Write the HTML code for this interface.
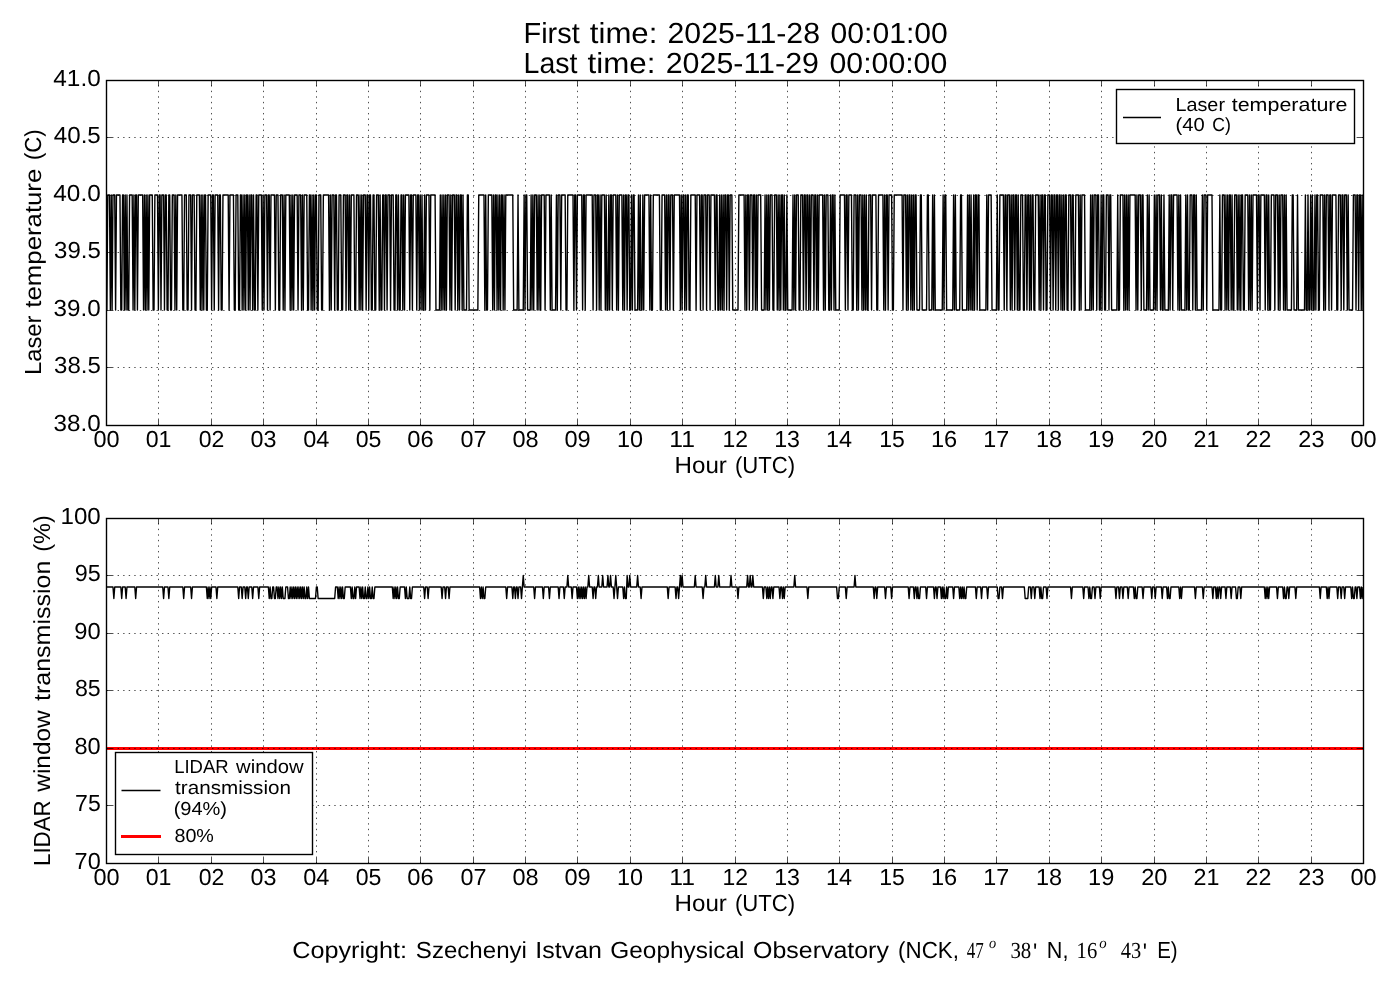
<!DOCTYPE html><html><head><meta charset="utf-8"><style>html,body{margin:0;padding:0;background:#fff;width:1400px;height:1000px;overflow:hidden}svg{display:block;will-change:transform}text{font-family:"Liberation Sans",sans-serif;fill:#000;text-rendering:geometricPrecision}.ser{font-family:"Liberation Serif",serif}.seri{font-family:"Liberation Serif",serif;font-style:italic}</style></head><body>
<svg width="1400" height="1000" viewBox="0 0 1400 1000">
<rect x="0" y="0" width="1400" height="1000" fill="#fff"/>
<path d="M106.87 310.00 L107.75 195.00 L108.62 195.00 L109.49 195.00 L110.36 310.00 L111.24 195.00 L112.11 310.00 L112.98 195.00 L113.86 195.00 L114.73 195.00 L115.60 310.00 L116.47 195.00 L117.35 195.00 L118.22 195.00 L119.09 195.00 L119.97 195.00 L120.84 310.00 L121.71 310.00 L122.59 195.00 L123.46 195.00 L124.33 310.00 L125.20 195.00 L126.08 310.00 L126.95 195.00 L127.82 310.00 L128.70 310.00 L129.57 195.00 L130.44 195.00 L131.31 195.00 L132.19 195.00 L133.06 310.00 L133.93 195.00 L134.81 310.00 L135.68 195.00 L136.55 195.00 L137.43 310.00 L138.30 195.00 L139.17 195.00 L140.04 195.00 L140.92 195.00 L141.79 195.00 L142.66 195.00 L143.54 310.00 L144.41 195.00 L145.28 310.00 L146.15 195.00 L147.03 310.00 L147.90 195.00 L148.77 310.00 L149.65 195.00 L150.52 195.00 L151.39 195.00 L152.26 195.00 L153.14 310.00 L154.01 310.00 L154.88 195.00 L155.76 195.00 L156.63 195.00 L157.50 195.00 L158.38 310.00 L159.25 195.00 L160.12 195.00 L160.99 310.00 L161.87 195.00 L162.74 195.00 L163.61 195.00 L164.49 310.00 L165.36 195.00 L166.23 195.00 L167.10 310.00 L167.98 310.00 L168.85 195.00 L169.72 195.00 L170.60 310.00 L171.47 310.00 L172.34 195.00 L173.21 195.00 L174.09 195.00 L174.96 310.00 L175.83 195.00 L176.71 310.00 L177.58 195.00 L178.45 195.00 L179.32 195.00 L180.20 195.00 L181.07 195.00 L181.94 195.00 L182.82 310.00 L183.69 310.00 L184.56 195.00 L185.44 195.00 L186.31 195.00 L187.18 310.00 L188.05 310.00 L188.93 195.00 L189.80 195.00 L190.67 195.00 L191.55 310.00 L192.42 195.00 L193.29 195.00 L194.16 195.00 L195.04 310.00 L195.91 310.00 L196.78 195.00 L197.66 195.00 L198.53 195.00 L199.40 195.00 L200.28 310.00 L201.15 195.00 L202.02 310.00 L202.89 195.00 L203.77 310.00 L204.64 195.00 L205.51 195.00 L206.39 310.00 L207.26 310.00 L208.13 195.00 L209.00 195.00 L209.88 195.00 L210.75 195.00 L211.62 310.00 L212.50 195.00 L213.37 195.00 L214.24 310.00 L215.11 195.00 L215.99 195.00 L216.86 195.00 L217.73 195.00 L218.61 310.00 L219.48 195.00 L220.35 195.00 L221.23 310.00 L222.10 310.00 L222.97 195.00 L223.84 195.00 L224.72 195.00 L225.59 195.00 L226.46 195.00 L227.34 195.00 L228.21 195.00 L229.08 310.00 L229.95 195.00 L230.83 195.00 L231.70 195.00 L232.57 195.00 L233.45 195.00 L234.32 310.00 L235.19 310.00 L236.06 195.00 L236.94 195.00 L237.81 195.00 L238.68 310.00 L239.56 310.00 L240.43 195.00 L241.30 195.00 L242.18 310.00 L243.05 195.00 L243.92 310.00 L244.79 195.00 L245.67 310.00 L246.54 195.00 L247.41 195.00 L248.29 310.00 L249.16 195.00 L250.03 310.00 L250.90 195.00 L251.78 195.00 L252.65 310.00 L253.52 195.00 L254.40 310.00 L255.27 310.00 L256.14 195.00 L257.01 195.00 L257.89 310.00 L258.76 195.00 L259.63 195.00 L260.51 195.00 L261.38 195.00 L262.25 310.00 L263.12 195.00 L264.00 310.00 L264.87 195.00 L265.74 195.00 L266.62 195.00 L267.49 310.00 L268.36 195.00 L269.24 195.00 L270.11 310.00 L270.98 195.00 L271.85 195.00 L272.73 195.00 L273.60 195.00 L274.47 195.00 L275.35 310.00 L276.22 195.00 L277.09 195.00 L277.96 195.00 L278.84 310.00 L279.71 310.00 L280.58 195.00 L281.46 195.00 L282.33 195.00 L283.20 310.00 L284.07 195.00 L284.95 310.00 L285.82 195.00 L286.69 195.00 L287.57 195.00 L288.44 195.00 L289.31 195.00 L290.19 310.00 L291.06 195.00 L291.93 310.00 L292.80 195.00 L293.68 310.00 L294.55 195.00 L295.42 195.00 L296.30 195.00 L297.17 195.00 L298.04 310.00 L298.91 195.00 L299.79 195.00 L300.66 195.00 L301.53 310.00 L302.41 195.00 L303.28 310.00 L304.15 195.00 L305.02 195.00 L305.90 195.00 L306.77 195.00 L307.64 310.00 L308.52 310.00 L309.39 195.00 L310.26 195.00 L311.14 310.00 L312.01 195.00 L312.88 310.00 L313.75 195.00 L314.63 310.00 L315.50 195.00 L316.37 195.00 L317.25 310.00 L318.12 310.00 L318.99 195.00 L319.86 195.00 L320.74 195.00 L321.61 310.00 L322.48 310.00 L323.36 195.00 L324.23 195.00 L325.10 195.00 L325.98 195.00 L326.85 195.00 L327.72 195.00 L328.59 195.00 L329.47 310.00 L330.34 195.00 L331.21 310.00 L332.09 195.00 L332.96 195.00 L333.83 195.00 L334.70 310.00 L335.58 195.00 L336.45 195.00 L337.32 310.00 L338.20 310.00 L339.07 195.00 L339.94 195.00 L340.81 195.00 L341.69 310.00 L342.56 310.00 L343.43 195.00 L344.31 195.00 L345.18 195.00 L346.05 310.00 L346.92 195.00 L347.80 195.00 L348.67 310.00 L349.54 195.00 L350.42 310.00 L351.29 195.00 L352.16 195.00 L353.04 195.00 L353.91 195.00 L354.78 310.00 L355.65 310.00 L356.53 195.00 L357.40 195.00 L358.27 195.00 L359.15 310.00 L360.02 195.00 L360.89 310.00 L361.76 195.00 L362.64 310.00 L363.51 195.00 L364.38 195.00 L365.26 195.00 L366.13 310.00 L367.00 195.00 L367.88 195.00 L368.75 310.00 L369.62 195.00 L370.49 195.00 L371.37 310.00 L372.24 310.00 L373.11 195.00 L373.99 195.00 L374.86 310.00 L375.73 310.00 L376.60 195.00 L377.48 195.00 L378.35 195.00 L379.22 310.00 L380.10 195.00 L380.97 310.00 L381.84 310.00 L382.71 195.00 L383.59 195.00 L384.46 310.00 L385.33 195.00 L386.21 195.00 L387.08 310.00 L387.95 195.00 L388.83 195.00 L389.70 195.00 L390.57 310.00 L391.44 195.00 L392.32 195.00 L393.19 195.00 L394.06 310.00 L394.94 310.00 L395.81 195.00 L396.68 195.00 L397.55 310.00 L398.43 195.00 L399.30 310.00 L400.17 310.00 L401.05 195.00 L401.92 195.00 L402.79 310.00 L403.66 195.00 L404.54 310.00 L405.41 195.00 L406.28 195.00 L407.16 195.00 L408.03 195.00 L408.90 195.00 L409.77 310.00 L410.65 195.00 L411.52 195.00 L412.39 310.00 L413.27 195.00 L414.14 195.00 L415.01 195.00 L415.89 195.00 L416.76 310.00 L417.63 195.00 L418.50 195.00 L419.38 310.00 L420.25 195.00 L421.12 310.00 L422.00 195.00 L422.87 310.00 L423.74 310.00 L424.61 195.00 L425.49 310.00 L426.36 195.00 L427.23 195.00 L428.11 195.00 L428.98 195.00 L429.85 310.00 L430.73 195.00 L431.60 195.00 L432.47 195.00 L433.34 195.00 L434.22 195.00 L435.09 195.00 L435.96 310.00 L436.84 310.00 L437.71 310.00 L438.58 310.00 L439.45 310.00 L440.33 195.00 L441.20 310.00 L442.07 195.00 L442.95 310.00 L443.82 195.00 L444.69 310.00 L445.56 195.00 L446.44 310.00 L447.31 195.00 L448.18 195.00 L449.06 195.00 L449.93 310.00 L450.80 195.00 L451.67 310.00 L452.55 195.00 L453.42 195.00 L454.29 195.00 L455.17 310.00 L456.04 195.00 L456.91 195.00 L457.79 310.00 L458.66 195.00 L459.53 310.00 L460.40 195.00 L461.28 195.00 L462.15 310.00 L463.02 195.00 L463.90 310.00 L464.77 310.00 L465.64 310.00 L466.51 310.00 L467.39 195.00 L468.26 195.00 L469.13 310.00 L470.01 310.00 L470.88 310.00 L471.75 310.00 L472.62 310.00 L473.50 310.00 L474.37 310.00 L475.24 310.00 L476.12 310.00 L476.99 310.00 L477.86 310.00 L478.74 195.00 L479.61 195.00 L480.48 195.00 L481.35 195.00 L482.23 195.00 L483.10 195.00 L483.97 195.00 L484.85 310.00 L485.72 195.00 L486.59 310.00 L487.46 310.00 L488.34 195.00 L489.21 195.00 L490.08 195.00 L490.96 195.00 L491.83 195.00 L492.70 310.00 L493.58 195.00 L494.45 310.00 L495.32 195.00 L496.19 195.00 L497.07 310.00 L497.94 195.00 L498.81 310.00 L499.69 195.00 L500.56 310.00 L501.43 195.00 L502.30 195.00 L503.18 310.00 L504.05 195.00 L504.92 310.00 L505.80 195.00 L506.67 195.00 L507.54 195.00 L508.41 195.00 L509.29 195.00 L510.16 195.00 L511.03 195.00 L511.91 195.00 L512.78 195.00 L513.65 310.00 L514.52 310.00 L515.40 310.00 L516.27 310.00 L517.14 310.00 L518.02 195.00 L518.89 310.00 L519.76 310.00 L520.64 310.00 L521.51 310.00 L522.38 310.00 L523.25 310.00 L524.13 195.00 L525.00 310.00 L525.87 195.00 L526.75 195.00 L527.62 310.00 L528.49 310.00 L529.36 310.00 L530.24 310.00 L531.11 195.00 L531.98 310.00 L532.86 195.00 L533.73 310.00 L534.60 195.00 L535.47 195.00 L536.35 195.00 L537.22 310.00 L538.09 195.00 L538.97 310.00 L539.84 195.00 L540.71 310.00 L541.59 195.00 L542.46 195.00 L543.33 195.00 L544.20 195.00 L545.08 310.00 L545.95 195.00 L546.82 195.00 L547.70 195.00 L548.57 195.00 L549.44 195.00 L550.31 310.00 L551.19 195.00 L552.06 310.00 L552.93 310.00 L553.81 310.00 L554.68 310.00 L555.55 310.00 L556.42 195.00 L557.30 310.00 L558.17 195.00 L559.04 195.00 L559.92 195.00 L560.79 310.00 L561.66 195.00 L562.54 195.00 L563.41 195.00 L564.28 195.00 L565.15 195.00 L566.03 310.00 L566.90 310.00 L567.77 195.00 L568.65 195.00 L569.52 195.00 L570.39 195.00 L571.26 195.00 L572.14 195.00 L573.01 195.00 L573.88 310.00 L574.76 195.00 L575.63 195.00 L576.50 310.00 L577.38 195.00 L578.25 195.00 L579.12 195.00 L579.99 195.00 L580.87 195.00 L581.74 195.00 L582.61 310.00 L583.49 195.00 L584.36 195.00 L585.23 310.00 L586.10 195.00 L586.98 195.00 L587.85 195.00 L588.72 195.00 L589.60 195.00 L590.47 195.00 L591.34 195.00 L592.21 195.00 L593.09 310.00 L593.96 195.00 L594.83 195.00 L595.71 195.00 L596.58 310.00 L597.45 195.00 L598.33 195.00 L599.20 310.00 L600.07 195.00 L600.94 310.00 L601.82 195.00 L602.69 195.00 L603.56 195.00 L604.44 195.00 L605.31 310.00 L606.18 195.00 L607.05 310.00 L607.93 310.00 L608.80 195.00 L609.67 310.00 L610.55 195.00 L611.42 195.00 L612.29 310.00 L613.16 195.00 L614.04 195.00 L614.91 195.00 L615.78 195.00 L616.66 310.00 L617.53 195.00 L618.40 310.00 L619.28 195.00 L620.15 195.00 L621.02 195.00 L621.89 195.00 L622.77 310.00 L623.64 195.00 L624.51 310.00 L625.39 195.00 L626.26 195.00 L627.13 310.00 L628.00 195.00 L628.88 195.00 L629.75 310.00 L630.62 310.00 L631.50 195.00 L632.37 310.00 L633.24 195.00 L634.11 195.00 L634.99 310.00 L635.86 310.00 L636.73 310.00 L637.61 310.00 L638.48 195.00 L639.35 310.00 L640.22 195.00 L641.10 310.00 L641.97 310.00 L642.84 195.00 L643.72 310.00 L644.59 195.00 L645.46 195.00 L646.34 195.00 L647.21 195.00 L648.08 195.00 L648.95 195.00 L649.83 310.00 L650.70 195.00 L651.57 310.00 L652.45 310.00 L653.32 195.00 L654.19 195.00 L655.06 195.00 L655.94 195.00 L656.81 195.00 L657.68 195.00 L658.56 195.00 L659.43 195.00 L660.30 310.00 L661.17 310.00 L662.05 195.00 L662.92 195.00 L663.79 195.00 L664.67 195.00 L665.54 310.00 L666.41 195.00 L667.29 310.00 L668.16 195.00 L669.03 195.00 L669.90 310.00 L670.78 195.00 L671.65 195.00 L672.52 195.00 L673.40 310.00 L674.27 195.00 L675.14 195.00 L676.01 195.00 L676.89 195.00 L677.76 195.00 L678.63 195.00 L679.51 195.00 L680.38 310.00 L681.25 195.00 L682.12 310.00 L683.00 195.00 L683.87 195.00 L684.74 310.00 L685.62 195.00 L686.49 310.00 L687.36 195.00 L688.24 195.00 L689.11 310.00 L689.98 310.00 L690.85 195.00 L691.73 195.00 L692.60 195.00 L693.47 195.00 L694.35 195.00 L695.22 195.00 L696.09 310.00 L696.96 195.00 L697.84 195.00 L698.71 195.00 L699.58 195.00 L700.46 310.00 L701.33 195.00 L702.20 195.00 L703.08 310.00 L703.95 195.00 L704.82 195.00 L705.69 195.00 L706.57 310.00 L707.44 195.00 L708.31 195.00 L709.19 195.00 L710.06 310.00 L710.93 195.00 L711.80 195.00 L712.68 195.00 L713.55 195.00 L714.42 195.00 L715.30 310.00 L716.17 195.00 L717.04 195.00 L717.91 310.00 L718.79 310.00 L719.66 195.00 L720.53 310.00 L721.41 195.00 L722.28 310.00 L723.15 195.00 L724.03 310.00 L724.90 195.00 L725.77 195.00 L726.64 310.00 L727.52 195.00 L728.39 195.00 L729.26 310.00 L730.14 195.00 L731.01 195.00 L731.88 195.00 L732.75 310.00 L733.63 310.00 L734.50 310.00 L735.37 310.00 L736.25 310.00 L737.12 310.00 L737.99 310.00 L738.86 195.00 L739.74 195.00 L740.61 195.00 L741.48 195.00 L742.36 195.00 L743.23 195.00 L744.10 195.00 L744.97 310.00 L745.85 195.00 L746.72 310.00 L747.59 195.00 L748.47 195.00 L749.34 310.00 L750.21 195.00 L751.09 195.00 L751.96 195.00 L752.83 310.00 L753.70 195.00 L754.58 195.00 L755.45 310.00 L756.32 195.00 L757.20 310.00 L758.07 195.00 L758.94 195.00 L759.81 195.00 L760.69 195.00 L761.56 310.00 L762.43 310.00 L763.31 310.00 L764.18 310.00 L765.05 195.00 L765.92 310.00 L766.80 195.00 L767.67 310.00 L768.54 195.00 L769.42 310.00 L770.29 195.00 L771.16 195.00 L772.04 195.00 L772.91 310.00 L773.78 310.00 L774.65 195.00 L775.53 195.00 L776.40 195.00 L777.27 310.00 L778.15 195.00 L779.02 310.00 L779.89 195.00 L780.76 310.00 L781.64 195.00 L782.51 195.00 L783.38 310.00 L784.26 195.00 L785.13 310.00 L786.00 310.00 L786.88 195.00 L787.75 310.00 L788.62 310.00 L789.49 310.00 L790.37 310.00 L791.24 310.00 L792.11 310.00 L792.99 195.00 L793.86 310.00 L794.73 195.00 L795.60 310.00 L796.48 195.00 L797.35 195.00 L798.22 195.00 L799.10 310.00 L799.97 310.00 L800.84 195.00 L801.71 195.00 L802.59 195.00 L803.46 310.00 L804.33 195.00 L805.21 195.00 L806.08 310.00 L806.95 195.00 L807.83 195.00 L808.70 310.00 L809.57 195.00 L810.44 310.00 L811.32 195.00 L812.19 195.00 L813.06 195.00 L813.94 310.00 L814.81 195.00 L815.68 195.00 L816.55 310.00 L817.43 195.00 L818.30 310.00 L819.17 195.00 L820.05 195.00 L820.92 195.00 L821.79 195.00 L822.66 195.00 L823.54 310.00 L824.41 195.00 L825.28 310.00 L826.16 195.00 L827.03 195.00 L827.90 195.00 L828.78 310.00 L829.65 310.00 L830.52 195.00 L831.39 310.00 L832.27 195.00 L833.14 195.00 L834.01 310.00 L834.89 195.00 L835.76 310.00 L836.63 310.00 L837.50 310.00 L838.38 310.00 L839.25 310.00 L840.12 195.00 L841.00 195.00 L841.87 195.00 L842.74 195.00 L843.61 195.00 L844.49 195.00 L845.36 310.00 L846.23 195.00 L847.11 195.00 L847.98 310.00 L848.85 195.00 L849.72 195.00 L850.60 195.00 L851.47 195.00 L852.34 310.00 L853.22 310.00 L854.09 195.00 L854.96 195.00 L855.84 195.00 L856.71 310.00 L857.58 195.00 L858.45 310.00 L859.33 195.00 L860.20 195.00 L861.07 195.00 L861.95 310.00 L862.82 195.00 L863.69 310.00 L864.56 195.00 L865.44 310.00 L866.31 195.00 L867.18 310.00 L868.06 310.00 L868.93 195.00 L869.80 195.00 L870.67 195.00 L871.55 310.00 L872.42 195.00 L873.29 195.00 L874.17 195.00 L875.04 195.00 L875.91 195.00 L876.79 310.00 L877.66 310.00 L878.53 195.00 L879.40 195.00 L880.28 195.00 L881.15 195.00 L882.02 195.00 L882.90 195.00 L883.77 310.00 L884.64 195.00 L885.51 310.00 L886.39 195.00 L887.26 195.00 L888.13 310.00 L889.01 195.00 L889.88 195.00 L890.75 195.00 L891.62 195.00 L892.50 310.00 L893.37 310.00 L894.24 195.00 L895.12 195.00 L895.99 195.00 L896.86 195.00 L897.74 195.00 L898.61 195.00 L899.48 195.00 L900.35 195.00 L901.23 195.00 L902.10 195.00 L902.97 310.00 L903.85 195.00 L904.72 195.00 L905.59 195.00 L906.46 310.00 L907.34 195.00 L908.21 310.00 L909.08 195.00 L909.96 195.00 L910.83 310.00 L911.70 195.00 L912.58 310.00 L913.45 195.00 L914.32 310.00 L915.19 195.00 L916.07 195.00 L916.94 310.00 L917.81 310.00 L918.69 310.00 L919.56 310.00 L920.43 195.00 L921.30 195.00 L922.18 310.00 L923.05 310.00 L923.92 310.00 L924.80 310.00 L925.67 310.00 L926.54 310.00 L927.41 195.00 L928.29 195.00 L929.16 310.00 L930.03 310.00 L930.91 310.00 L931.78 310.00 L932.65 195.00 L933.53 310.00 L934.40 195.00 L935.27 310.00 L936.14 310.00 L937.02 310.00 L937.89 310.00 L938.76 310.00 L939.64 310.00 L940.51 310.00 L941.38 310.00 L942.25 310.00 L943.13 195.00 L944.00 310.00 L944.87 195.00 L945.75 195.00 L946.62 310.00 L947.49 310.00 L948.36 310.00 L949.24 310.00 L950.11 310.00 L950.98 310.00 L951.86 310.00 L952.73 310.00 L953.60 195.00 L954.47 310.00 L955.35 195.00 L956.22 310.00 L957.09 310.00 L957.97 310.00 L958.84 310.00 L959.71 310.00 L960.59 195.00 L961.46 195.00 L962.33 310.00 L963.20 310.00 L964.08 310.00 L964.95 310.00 L965.82 310.00 L966.70 310.00 L967.57 195.00 L968.44 310.00 L969.31 195.00 L970.19 310.00 L971.06 195.00 L971.93 310.00 L972.81 310.00 L973.68 195.00 L974.55 310.00 L975.43 195.00 L976.30 195.00 L977.17 310.00 L978.04 195.00 L978.92 195.00 L979.79 310.00 L980.66 310.00 L981.54 310.00 L982.41 310.00 L983.28 310.00 L984.15 310.00 L985.03 310.00 L985.90 310.00 L986.77 195.00 L987.65 310.00 L988.52 195.00 L989.39 195.00 L990.26 195.00 L991.14 195.00 L992.01 310.00 L992.88 310.00 L993.76 310.00 L994.63 310.00 L995.50 310.00 L996.38 310.00 L997.25 195.00 L998.12 310.00 L998.99 310.00 L999.87 195.00 L1000.74 195.00 L1001.61 195.00 L1002.49 195.00 L1003.36 195.00 L1004.23 310.00 L1005.10 195.00 L1005.98 195.00 L1006.85 310.00 L1007.72 195.00 L1008.60 195.00 L1009.47 195.00 L1010.34 310.00 L1011.21 195.00 L1012.09 310.00 L1012.96 195.00 L1013.83 195.00 L1014.71 310.00 L1015.58 195.00 L1016.45 195.00 L1017.32 310.00 L1018.20 195.00 L1019.07 310.00 L1019.94 310.00 L1020.82 195.00 L1021.69 195.00 L1022.56 195.00 L1023.44 310.00 L1024.31 310.00 L1025.18 195.00 L1026.05 195.00 L1026.93 310.00 L1027.80 195.00 L1028.67 195.00 L1029.55 310.00 L1030.42 195.00 L1031.29 310.00 L1032.16 195.00 L1033.04 195.00 L1033.91 310.00 L1034.78 310.00 L1035.66 195.00 L1036.53 195.00 L1037.40 195.00 L1038.28 195.00 L1039.15 310.00 L1040.02 195.00 L1040.89 310.00 L1041.77 195.00 L1042.64 195.00 L1043.51 310.00 L1044.39 195.00 L1045.26 195.00 L1046.13 310.00 L1047.00 310.00 L1047.88 195.00 L1048.75 195.00 L1049.62 195.00 L1050.50 310.00 L1051.37 195.00 L1052.24 195.00 L1053.11 310.00 L1053.99 195.00 L1054.86 195.00 L1055.73 310.00 L1056.61 195.00 L1057.48 195.00 L1058.35 310.00 L1059.22 195.00 L1060.10 195.00 L1060.97 310.00 L1061.84 195.00 L1062.72 310.00 L1063.59 195.00 L1064.46 310.00 L1065.34 195.00 L1066.21 195.00 L1067.08 310.00 L1067.95 310.00 L1068.83 195.00 L1069.70 195.00 L1070.57 195.00 L1071.45 310.00 L1072.32 195.00 L1073.19 195.00 L1074.06 310.00 L1074.94 310.00 L1075.81 195.00 L1076.68 195.00 L1077.56 195.00 L1078.43 195.00 L1079.30 310.00 L1080.18 195.00 L1081.05 310.00 L1081.92 195.00 L1082.79 195.00 L1083.67 195.00 L1084.54 195.00 L1085.41 310.00 L1086.29 310.00 L1087.16 310.00 L1088.03 310.00 L1088.90 310.00 L1089.78 310.00 L1090.65 195.00 L1091.52 310.00 L1092.40 195.00 L1093.27 310.00 L1094.14 195.00 L1095.01 195.00 L1095.89 195.00 L1096.76 310.00 L1097.63 195.00 L1098.51 195.00 L1099.38 310.00 L1100.25 310.00 L1101.12 195.00 L1102.00 310.00 L1102.87 195.00 L1103.74 195.00 L1104.62 310.00 L1105.49 310.00 L1106.36 195.00 L1107.24 195.00 L1108.11 195.00 L1108.98 310.00 L1109.85 195.00 L1110.73 195.00 L1111.60 310.00 L1112.47 310.00 L1113.35 310.00 L1114.22 310.00 L1115.09 310.00 L1115.96 310.00 L1116.84 310.00 L1117.71 195.00 L1118.58 310.00 L1119.46 310.00 L1120.33 195.00 L1121.20 195.00 L1122.07 195.00 L1122.95 195.00 L1123.82 310.00 L1124.69 195.00 L1125.57 310.00 L1126.44 195.00 L1127.31 310.00 L1128.19 195.00 L1129.06 310.00 L1129.93 195.00 L1130.80 195.00 L1131.68 195.00 L1132.55 195.00 L1133.42 195.00 L1134.30 195.00 L1135.17 195.00 L1136.04 310.00 L1136.91 195.00 L1137.79 310.00 L1138.66 195.00 L1139.53 195.00 L1140.41 195.00 L1141.28 310.00 L1142.15 195.00 L1143.03 195.00 L1143.90 310.00 L1144.77 310.00 L1145.64 310.00 L1146.52 310.00 L1147.39 195.00 L1148.26 310.00 L1149.14 195.00 L1150.01 310.00 L1150.88 310.00 L1151.75 310.00 L1152.63 310.00 L1153.50 310.00 L1154.37 195.00 L1155.25 310.00 L1156.12 195.00 L1156.99 310.00 L1157.86 195.00 L1158.74 195.00 L1159.61 195.00 L1160.48 310.00 L1161.36 195.00 L1162.23 310.00 L1163.10 310.00 L1163.97 195.00 L1164.85 310.00 L1165.72 310.00 L1166.59 310.00 L1167.47 310.00 L1168.34 310.00 L1169.21 195.00 L1170.09 310.00 L1170.96 195.00 L1171.83 195.00 L1172.70 310.00 L1173.58 195.00 L1174.45 195.00 L1175.32 195.00 L1176.20 195.00 L1177.07 195.00 L1177.94 310.00 L1178.81 195.00 L1179.69 310.00 L1180.56 195.00 L1181.43 310.00 L1182.31 310.00 L1183.18 310.00 L1184.05 310.00 L1184.93 310.00 L1185.80 195.00 L1186.67 310.00 L1187.54 195.00 L1188.42 310.00 L1189.29 310.00 L1190.16 195.00 L1191.04 195.00 L1191.91 195.00 L1192.78 310.00 L1193.65 195.00 L1194.53 195.00 L1195.40 310.00 L1196.27 195.00 L1197.15 310.00 L1198.02 310.00 L1198.89 310.00 L1199.76 310.00 L1200.64 310.00 L1201.51 310.00 L1202.38 195.00 L1203.26 310.00 L1204.13 195.00 L1205.00 195.00 L1205.88 195.00 L1206.75 310.00 L1207.62 195.00 L1208.49 195.00 L1209.37 195.00 L1210.24 195.00 L1211.11 195.00 L1211.99 195.00 L1212.86 310.00 L1213.73 310.00 L1214.60 310.00 L1215.48 310.00 L1216.35 310.00 L1217.22 310.00 L1218.10 310.00 L1218.97 310.00 L1219.84 195.00 L1220.71 310.00 L1221.59 310.00 L1222.46 195.00 L1223.33 195.00 L1224.21 195.00 L1225.08 310.00 L1225.95 195.00 L1226.82 310.00 L1227.70 195.00 L1228.57 310.00 L1229.44 195.00 L1230.32 195.00 L1231.19 310.00 L1232.06 195.00 L1232.94 310.00 L1233.81 310.00 L1234.68 195.00 L1235.55 195.00 L1236.43 195.00 L1237.30 310.00 L1238.17 195.00 L1239.05 310.00 L1239.92 195.00 L1240.79 310.00 L1241.66 195.00 L1242.54 195.00 L1243.41 310.00 L1244.28 310.00 L1245.16 195.00 L1246.03 195.00 L1246.90 195.00 L1247.78 195.00 L1248.65 310.00 L1249.52 195.00 L1250.39 310.00 L1251.27 195.00 L1252.14 310.00 L1253.01 195.00 L1253.89 195.00 L1254.76 195.00 L1255.63 195.00 L1256.50 195.00 L1257.38 310.00 L1258.25 195.00 L1259.12 195.00 L1260.00 310.00 L1260.87 195.00 L1261.74 195.00 L1262.61 195.00 L1263.49 195.00 L1264.36 195.00 L1265.23 310.00 L1266.11 195.00 L1266.98 195.00 L1267.85 310.00 L1268.72 195.00 L1269.60 310.00 L1270.47 310.00 L1271.34 195.00 L1272.22 195.00 L1273.09 195.00 L1273.96 195.00 L1274.84 310.00 L1275.71 195.00 L1276.58 195.00 L1277.45 195.00 L1278.33 310.00 L1279.20 195.00 L1280.07 310.00 L1280.95 195.00 L1281.82 195.00 L1282.69 195.00 L1283.56 310.00 L1284.44 195.00 L1285.31 310.00 L1286.18 195.00 L1287.06 310.00 L1287.93 310.00 L1288.80 310.00 L1289.68 310.00 L1290.55 310.00 L1291.42 310.00 L1292.29 195.00 L1293.17 195.00 L1294.04 310.00 L1294.91 310.00 L1295.79 310.00 L1296.66 310.00 L1297.53 195.00 L1298.40 310.00 L1299.28 310.00 L1300.15 310.00 L1301.02 310.00 L1301.90 310.00 L1302.77 310.00 L1303.64 310.00 L1304.51 310.00 L1305.39 195.00 L1306.26 310.00 L1307.13 310.00 L1308.01 195.00 L1308.88 310.00 L1309.75 310.00 L1310.62 195.00 L1311.50 310.00 L1312.37 195.00 L1313.24 310.00 L1314.12 310.00 L1314.99 195.00 L1315.86 310.00 L1316.74 195.00 L1317.61 195.00 L1318.48 310.00 L1319.35 310.00 L1320.23 195.00 L1321.10 195.00 L1321.97 195.00 L1322.85 195.00 L1323.72 310.00 L1324.59 195.00 L1325.46 310.00 L1326.34 195.00 L1327.21 195.00 L1328.08 195.00 L1328.96 310.00 L1329.83 195.00 L1330.70 195.00 L1331.57 310.00 L1332.45 195.00 L1333.32 195.00 L1334.19 195.00 L1335.07 195.00 L1335.94 195.00 L1336.81 310.00 L1337.69 310.00 L1338.56 195.00 L1339.43 195.00 L1340.30 195.00 L1341.18 310.00 L1342.05 195.00 L1342.92 195.00 L1343.80 310.00 L1344.67 195.00 L1345.54 195.00 L1346.41 195.00 L1347.29 310.00 L1348.16 195.00 L1349.03 310.00 L1349.91 310.00 L1350.78 310.00 L1351.65 310.00 L1352.53 310.00 L1353.40 195.00 L1354.27 195.00 L1355.14 195.00 L1356.02 310.00 L1356.89 195.00 L1357.76 195.00 L1358.64 310.00 L1359.51 195.00 L1360.38 195.00 L1361.25 310.00 L1362.13 195.00 L1363.00 310.00" fill="none" stroke="#000" stroke-width="1.389" stroke-linejoin="round"/>
<path d="M158.5 425.5 L158.5 80.5 M211.5 425.5 L211.5 80.5 M263.5 425.5 L263.5 80.5 M316.5 425.5 L316.5 80.5 M368.5 425.5 L368.5 80.5 M420.5 425.5 L420.5 80.5 M473.5 425.5 L473.5 80.5 M525.5 425.5 L525.5 80.5 M577.5 425.5 L577.5 80.5 M630.5 425.5 L630.5 80.5 M682.5 425.5 L682.5 80.5 M735.5 425.5 L735.5 80.5 M787.5 425.5 L787.5 80.5 M839.5 425.5 L839.5 80.5 M892.5 425.5 L892.5 80.5 M944.5 425.5 L944.5 80.5 M996.5 425.5 L996.5 80.5 M1049.5 425.5 L1049.5 80.5 M1101.5 425.5 L1101.5 80.5 M1154.5 425.5 L1154.5 80.5 M1206.5 425.5 L1206.5 80.5 M1258.5 425.5 L1258.5 80.5 M1311.5 425.5 L1311.5 80.5 M106.5 367.5 L1363.5 367.5 M106.5 310.5 L1363.5 310.5 M106.5 252.5 L1363.5 252.5 M106.5 195.5 L1363.5 195.5 M106.5 137.5 L1363.5 137.5" fill="none" stroke="#000" stroke-width="0.694" stroke-dasharray="1.389 4.167"/>
<path d="M106.5 425.5 l0 -5.56 M106.5 80.5 l0 5.56 M158.5 425.5 l0 -5.56 M158.5 80.5 l0 5.56 M211.5 425.5 l0 -5.56 M211.5 80.5 l0 5.56 M263.5 425.5 l0 -5.56 M263.5 80.5 l0 5.56 M316.5 425.5 l0 -5.56 M316.5 80.5 l0 5.56 M368.5 425.5 l0 -5.56 M368.5 80.5 l0 5.56 M420.5 425.5 l0 -5.56 M420.5 80.5 l0 5.56 M473.5 425.5 l0 -5.56 M473.5 80.5 l0 5.56 M525.5 425.5 l0 -5.56 M525.5 80.5 l0 5.56 M577.5 425.5 l0 -5.56 M577.5 80.5 l0 5.56 M630.5 425.5 l0 -5.56 M630.5 80.5 l0 5.56 M682.5 425.5 l0 -5.56 M682.5 80.5 l0 5.56 M735.5 425.5 l0 -5.56 M735.5 80.5 l0 5.56 M787.5 425.5 l0 -5.56 M787.5 80.5 l0 5.56 M839.5 425.5 l0 -5.56 M839.5 80.5 l0 5.56 M892.5 425.5 l0 -5.56 M892.5 80.5 l0 5.56 M944.5 425.5 l0 -5.56 M944.5 80.5 l0 5.56 M996.5 425.5 l0 -5.56 M996.5 80.5 l0 5.56 M1049.5 425.5 l0 -5.56 M1049.5 80.5 l0 5.56 M1101.5 425.5 l0 -5.56 M1101.5 80.5 l0 5.56 M1154.5 425.5 l0 -5.56 M1154.5 80.5 l0 5.56 M1206.5 425.5 l0 -5.56 M1206.5 80.5 l0 5.56 M1258.5 425.5 l0 -5.56 M1258.5 80.5 l0 5.56 M1311.5 425.5 l0 -5.56 M1311.5 80.5 l0 5.56 M1363.5 425.5 l0 -5.56 M1363.5 80.5 l0 5.56 M106.5 425.5 l5.56 0 M1363.5 425.5 l-5.56 0 M106.5 367.5 l5.56 0 M1363.5 367.5 l-5.56 0 M106.5 310.5 l5.56 0 M1363.5 310.5 l-5.56 0 M106.5 252.5 l5.56 0 M1363.5 252.5 l-5.56 0 M106.5 195.5 l5.56 0 M1363.5 195.5 l-5.56 0 M106.5 137.5 l5.56 0 M1363.5 137.5 l-5.56 0 M106.5 80.5 l5.56 0 M1363.5 80.5 l-5.56 0" fill="none" stroke="#000" stroke-width="0.694"/>
<rect x="106.5" y="80.5" width="1257.0" height="345.0" fill="none" stroke="#000" stroke-width="1.389"/>
<path d="M106.87 587.00 L107.75 587.00 L108.62 587.00 L109.49 587.00 L110.36 587.00 L111.24 587.00 L112.11 587.00 L112.98 587.00 L113.86 598.50 L114.73 587.00 L115.60 587.00 L116.47 587.00 L117.35 587.00 L118.22 587.00 L119.09 587.00 L119.97 587.00 L120.84 587.00 L121.71 598.50 L122.59 587.00 L123.46 587.00 L124.33 587.00 L125.20 587.00 L126.08 598.50 L126.95 587.00 L127.82 587.00 L128.70 587.00 L129.57 587.00 L130.44 587.00 L131.31 587.00 L132.19 587.00 L133.06 587.00 L133.93 587.00 L134.81 587.00 L135.68 598.50 L136.55 587.00 L137.43 587.00 L138.30 587.00 L139.17 587.00 L140.04 587.00 L140.92 587.00 L141.79 587.00 L142.66 587.00 L143.54 587.00 L144.41 587.00 L145.28 587.00 L146.15 587.00 L147.03 587.00 L147.90 587.00 L148.77 587.00 L149.65 587.00 L150.52 587.00 L151.39 587.00 L152.26 587.00 L153.14 587.00 L154.01 587.00 L154.88 587.00 L155.76 587.00 L156.63 587.00 L157.50 587.00 L158.38 587.00 L159.25 587.00 L160.12 587.00 L160.99 587.00 L161.87 587.00 L162.74 587.00 L163.61 598.50 L164.49 587.00 L165.36 587.00 L166.23 587.00 L167.10 587.00 L167.98 587.00 L168.85 598.50 L169.72 587.00 L170.60 587.00 L171.47 587.00 L172.34 587.00 L173.21 587.00 L174.09 587.00 L174.96 587.00 L175.83 587.00 L176.71 587.00 L177.58 587.00 L178.45 587.00 L179.32 587.00 L180.20 587.00 L181.07 587.00 L181.94 587.00 L182.82 587.00 L183.69 598.50 L184.56 587.00 L185.44 587.00 L186.31 587.00 L187.18 587.00 L188.05 587.00 L188.93 587.00 L189.80 587.00 L190.67 587.00 L191.55 598.50 L192.42 587.00 L193.29 587.00 L194.16 587.00 L195.04 587.00 L195.91 587.00 L196.78 587.00 L197.66 587.00 L198.53 587.00 L199.40 587.00 L200.28 587.00 L201.15 587.00 L202.02 587.00 L202.89 587.00 L203.77 587.00 L204.64 587.00 L205.51 587.00 L206.39 587.00 L207.26 598.50 L208.13 587.00 L209.00 598.50 L209.88 587.00 L210.75 598.50 L211.62 587.00 L212.50 587.00 L213.37 587.00 L214.24 587.00 L215.11 587.00 L215.99 587.00 L216.86 598.50 L217.73 587.00 L218.61 587.00 L219.48 587.00 L220.35 587.00 L221.23 587.00 L222.10 587.00 L222.97 587.00 L223.84 587.00 L224.72 587.00 L225.59 587.00 L226.46 587.00 L227.34 587.00 L228.21 587.00 L229.08 587.00 L229.95 587.00 L230.83 587.00 L231.70 587.00 L232.57 587.00 L233.45 587.00 L234.32 587.00 L235.19 587.00 L236.06 587.00 L236.94 587.00 L237.81 587.00 L238.68 598.50 L239.56 587.00 L240.43 587.00 L241.30 587.00 L242.18 598.50 L243.05 587.00 L243.92 587.00 L244.79 587.00 L245.67 598.50 L246.54 587.00 L247.41 587.00 L248.29 598.50 L249.16 587.00 L250.03 587.00 L250.90 587.00 L251.78 587.00 L252.65 598.50 L253.52 587.00 L254.40 587.00 L255.27 587.00 L256.14 587.00 L257.01 587.00 L257.89 587.00 L258.76 598.50 L259.63 587.00 L260.51 587.00 L261.38 587.00 L262.25 587.00 L263.12 587.00 L264.00 587.00 L264.87 587.00 L265.74 587.00 L266.62 587.00 L267.49 587.00 L268.36 587.00 L269.24 598.50 L270.11 587.00 L270.98 598.50 L271.85 598.50 L272.73 587.00 L273.60 587.00 L274.47 598.50 L275.35 598.50 L276.22 587.00 L277.09 587.00 L277.96 598.50 L278.84 587.00 L279.71 598.50 L280.58 587.00 L281.46 598.50 L282.33 587.00 L283.20 598.50 L284.07 598.50 L284.95 598.50 L285.82 587.00 L286.69 587.00 L287.57 587.00 L288.44 598.50 L289.31 598.50 L290.19 587.00 L291.06 598.50 L291.93 587.00 L292.80 598.50 L293.68 587.00 L294.55 598.50 L295.42 587.00 L296.30 598.50 L297.17 587.00 L298.04 598.50 L298.91 587.00 L299.79 598.50 L300.66 587.00 L301.53 598.50 L302.41 587.00 L303.28 598.50 L304.15 587.00 L305.02 598.50 L305.90 598.50 L306.77 587.00 L307.64 598.50 L308.52 587.00 L309.39 598.50 L310.26 598.50 L311.14 598.50 L312.01 598.50 L312.88 598.50 L313.75 598.50 L314.63 598.50 L315.50 598.50 L316.37 587.00 L317.25 587.00 L318.12 598.50 L318.99 598.50 L319.86 598.50 L320.74 598.50 L321.61 598.50 L322.48 598.50 L323.36 598.50 L324.23 598.50 L325.10 598.50 L325.98 598.50 L326.85 598.50 L327.72 598.50 L328.59 598.50 L329.47 598.50 L330.34 598.50 L331.21 598.50 L332.09 598.50 L332.96 598.50 L333.83 598.50 L334.70 598.50 L335.58 587.00 L336.45 587.00 L337.32 587.00 L338.20 598.50 L339.07 587.00 L339.94 598.50 L340.81 587.00 L341.69 598.50 L342.56 587.00 L343.43 598.50 L344.31 598.50 L345.18 587.00 L346.05 587.00 L346.92 587.00 L347.80 587.00 L348.67 587.00 L349.54 587.00 L350.42 587.00 L351.29 598.50 L352.16 587.00 L353.04 598.50 L353.91 598.50 L354.78 587.00 L355.65 598.50 L356.53 587.00 L357.40 587.00 L358.27 587.00 L359.15 587.00 L360.02 598.50 L360.89 587.00 L361.76 598.50 L362.64 587.00 L363.51 598.50 L364.38 598.50 L365.26 587.00 L366.13 598.50 L367.00 598.50 L367.88 587.00 L368.75 598.50 L369.62 587.00 L370.49 598.50 L371.37 598.50 L372.24 587.00 L373.11 598.50 L373.99 598.50 L374.86 587.00 L375.73 587.00 L376.60 587.00 L377.48 587.00 L378.35 587.00 L379.22 587.00 L380.10 587.00 L380.97 587.00 L381.84 587.00 L382.71 587.00 L383.59 587.00 L384.46 587.00 L385.33 587.00 L386.21 587.00 L387.08 587.00 L387.95 587.00 L388.83 587.00 L389.70 587.00 L390.57 587.00 L391.44 587.00 L392.32 587.00 L393.19 598.50 L394.06 587.00 L394.94 598.50 L395.81 587.00 L396.68 598.50 L397.55 587.00 L398.43 598.50 L399.30 598.50 L400.17 587.00 L401.05 587.00 L401.92 587.00 L402.79 587.00 L403.66 587.00 L404.54 587.00 L405.41 598.50 L406.28 587.00 L407.16 598.50 L408.03 598.50 L408.90 598.50 L409.77 587.00 L410.65 598.50 L411.52 598.50 L412.39 587.00 L413.27 587.00 L414.14 587.00 L415.01 587.00 L415.89 587.00 L416.76 587.00 L417.63 587.00 L418.50 587.00 L419.38 587.00 L420.25 587.00 L421.12 587.00 L422.00 587.00 L422.87 587.00 L423.74 587.00 L424.61 598.50 L425.49 587.00 L426.36 587.00 L427.23 587.00 L428.11 598.50 L428.98 587.00 L429.85 587.00 L430.73 587.00 L431.60 587.00 L432.47 587.00 L433.34 587.00 L434.22 587.00 L435.09 587.00 L435.96 587.00 L436.84 587.00 L437.71 587.00 L438.58 587.00 L439.45 587.00 L440.33 587.00 L441.20 587.00 L442.07 598.50 L442.95 587.00 L443.82 587.00 L444.69 587.00 L445.56 598.50 L446.44 587.00 L447.31 587.00 L448.18 587.00 L449.06 598.50 L449.93 587.00 L450.80 587.00 L451.67 587.00 L452.55 587.00 L453.42 587.00 L454.29 587.00 L455.17 587.00 L456.04 587.00 L456.91 587.00 L457.79 587.00 L458.66 587.00 L459.53 587.00 L460.40 587.00 L461.28 587.00 L462.15 587.00 L463.02 587.00 L463.90 587.00 L464.77 587.00 L465.64 587.00 L466.51 587.00 L467.39 587.00 L468.26 587.00 L469.13 587.00 L470.01 587.00 L470.88 587.00 L471.75 587.00 L472.62 587.00 L473.50 587.00 L474.37 587.00 L475.24 587.00 L476.12 587.00 L476.99 587.00 L477.86 587.00 L478.74 587.00 L479.61 587.00 L480.48 598.50 L481.35 587.00 L482.23 598.50 L483.10 587.00 L483.97 598.50 L484.85 598.50 L485.72 587.00 L486.59 587.00 L487.46 587.00 L488.34 587.00 L489.21 587.00 L490.08 587.00 L490.96 587.00 L491.83 587.00 L492.70 587.00 L493.58 587.00 L494.45 587.00 L495.32 587.00 L496.19 587.00 L497.07 587.00 L497.94 587.00 L498.81 587.00 L499.69 587.00 L500.56 587.00 L501.43 587.00 L502.30 587.00 L503.18 587.00 L504.05 587.00 L504.92 587.00 L505.80 587.00 L506.67 598.50 L507.54 587.00 L508.41 587.00 L509.29 587.00 L510.16 587.00 L511.03 587.00 L511.91 587.00 L512.78 598.50 L513.65 587.00 L514.52 587.00 L515.40 598.50 L516.27 587.00 L517.14 587.00 L518.02 598.50 L518.89 587.00 L519.76 587.00 L520.64 587.00 L521.51 598.50 L522.38 587.00 L523.25 575.50 L524.13 587.00 L525.00 587.00 L525.87 587.00 L526.75 587.00 L527.62 587.00 L528.49 587.00 L529.36 587.00 L530.24 587.00 L531.11 587.00 L531.98 587.00 L532.86 587.00 L533.73 587.00 L534.60 598.50 L535.47 587.00 L536.35 587.00 L537.22 587.00 L538.09 587.00 L538.97 587.00 L539.84 587.00 L540.71 587.00 L541.59 587.00 L542.46 587.00 L543.33 598.50 L544.20 587.00 L545.08 587.00 L545.95 587.00 L546.82 587.00 L547.70 587.00 L548.57 587.00 L549.44 598.50 L550.31 587.00 L551.19 587.00 L552.06 587.00 L552.93 587.00 L553.81 587.00 L554.68 587.00 L555.55 587.00 L556.42 587.00 L557.30 587.00 L558.17 587.00 L559.04 598.50 L559.92 587.00 L560.79 587.00 L561.66 587.00 L562.54 587.00 L563.41 587.00 L564.28 598.50 L565.15 587.00 L566.03 587.00 L566.90 587.00 L567.77 575.50 L568.65 587.00 L569.52 587.00 L570.39 587.00 L571.26 587.00 L572.14 598.50 L573.01 587.00 L573.88 587.00 L574.76 587.00 L575.63 587.00 L576.50 587.00 L577.38 598.50 L578.25 587.00 L579.12 598.50 L579.99 587.00 L580.87 598.50 L581.74 587.00 L582.61 598.50 L583.49 587.00 L584.36 598.50 L585.23 587.00 L586.10 598.50 L586.98 587.00 L587.85 587.00 L588.72 575.50 L589.60 587.00 L590.47 587.00 L591.34 587.00 L592.21 587.00 L593.09 598.50 L593.96 587.00 L594.83 587.00 L595.71 598.50 L596.58 587.00 L597.45 587.00 L598.33 575.50 L599.20 587.00 L600.07 587.00 L600.94 587.00 L601.82 587.00 L602.69 575.50 L603.56 587.00 L604.44 587.00 L605.31 587.00 L606.18 587.00 L607.05 587.00 L607.93 575.50 L608.80 587.00 L609.67 587.00 L610.55 575.50 L611.42 587.00 L612.29 587.00 L613.16 587.00 L614.04 598.50 L614.91 587.00 L615.78 575.50 L616.66 587.00 L617.53 598.50 L618.40 587.00 L619.28 587.00 L620.15 587.00 L621.02 587.00 L621.89 587.00 L622.77 587.00 L623.64 598.50 L624.51 587.00 L625.39 598.50 L626.26 598.50 L627.13 575.50 L628.00 587.00 L628.88 587.00 L629.75 575.50 L630.62 587.00 L631.50 587.00 L632.37 587.00 L633.24 587.00 L634.11 587.00 L634.99 587.00 L635.86 587.00 L636.73 587.00 L637.61 575.50 L638.48 587.00 L639.35 587.00 L640.22 587.00 L641.10 598.50 L641.97 587.00 L642.84 587.00 L643.72 587.00 L644.59 587.00 L645.46 587.00 L646.34 587.00 L647.21 587.00 L648.08 587.00 L648.95 587.00 L649.83 587.00 L650.70 587.00 L651.57 587.00 L652.45 587.00 L653.32 587.00 L654.19 587.00 L655.06 587.00 L655.94 587.00 L656.81 587.00 L657.68 587.00 L658.56 587.00 L659.43 587.00 L660.30 587.00 L661.17 587.00 L662.05 587.00 L662.92 587.00 L663.79 587.00 L664.67 587.00 L665.54 587.00 L666.41 587.00 L667.29 587.00 L668.16 598.50 L669.03 587.00 L669.90 587.00 L670.78 587.00 L671.65 587.00 L672.52 587.00 L673.40 587.00 L674.27 587.00 L675.14 587.00 L676.01 598.50 L676.89 587.00 L677.76 587.00 L678.63 598.50 L679.51 587.00 L680.38 575.50 L681.25 587.00 L682.12 575.50 L683.00 587.00 L683.87 587.00 L684.74 587.00 L685.62 587.00 L686.49 587.00 L687.36 587.00 L688.24 587.00 L689.11 587.00 L689.98 587.00 L690.85 587.00 L691.73 587.00 L692.60 587.00 L693.47 587.00 L694.35 587.00 L695.22 575.50 L696.09 587.00 L696.96 587.00 L697.84 587.00 L698.71 587.00 L699.58 587.00 L700.46 587.00 L701.33 587.00 L702.20 587.00 L703.08 598.50 L703.95 587.00 L704.82 587.00 L705.69 575.50 L706.57 587.00 L707.44 587.00 L708.31 587.00 L709.19 587.00 L710.06 587.00 L710.93 587.00 L711.80 587.00 L712.68 587.00 L713.55 587.00 L714.42 587.00 L715.30 575.50 L716.17 587.00 L717.04 587.00 L717.91 587.00 L718.79 575.50 L719.66 587.00 L720.53 587.00 L721.41 587.00 L722.28 587.00 L723.15 587.00 L724.03 587.00 L724.90 587.00 L725.77 587.00 L726.64 587.00 L727.52 587.00 L728.39 587.00 L729.26 587.00 L730.14 587.00 L731.01 575.50 L731.88 587.00 L732.75 587.00 L733.63 587.00 L734.50 587.00 L735.37 587.00 L736.25 587.00 L737.12 587.00 L737.99 598.50 L738.86 587.00 L739.74 587.00 L740.61 587.00 L741.48 587.00 L742.36 587.00 L743.23 587.00 L744.10 587.00 L744.97 587.00 L745.85 587.00 L746.72 587.00 L747.59 575.50 L748.47 587.00 L749.34 587.00 L750.21 575.50 L751.09 587.00 L751.96 587.00 L752.83 575.50 L753.70 587.00 L754.58 587.00 L755.45 587.00 L756.32 587.00 L757.20 587.00 L758.07 587.00 L758.94 587.00 L759.81 587.00 L760.69 587.00 L761.56 587.00 L762.43 587.00 L763.31 598.50 L764.18 587.00 L765.05 587.00 L765.92 587.00 L766.80 598.50 L767.67 587.00 L768.54 598.50 L769.42 587.00 L770.29 598.50 L771.16 587.00 L772.04 587.00 L772.91 598.50 L773.78 587.00 L774.65 587.00 L775.53 587.00 L776.40 587.00 L777.27 587.00 L778.15 587.00 L779.02 587.00 L779.89 598.50 L780.76 587.00 L781.64 587.00 L782.51 598.50 L783.38 587.00 L784.26 598.50 L785.13 587.00 L786.00 587.00 L786.88 587.00 L787.75 587.00 L788.62 587.00 L789.49 587.00 L790.37 587.00 L791.24 587.00 L792.11 587.00 L792.99 587.00 L793.86 587.00 L794.73 575.50 L795.60 587.00 L796.48 587.00 L797.35 587.00 L798.22 587.00 L799.10 587.00 L799.97 587.00 L800.84 587.00 L801.71 587.00 L802.59 587.00 L803.46 587.00 L804.33 587.00 L805.21 587.00 L806.08 587.00 L806.95 587.00 L807.83 598.50 L808.70 587.00 L809.57 587.00 L810.44 587.00 L811.32 587.00 L812.19 587.00 L813.06 587.00 L813.94 587.00 L814.81 587.00 L815.68 587.00 L816.55 587.00 L817.43 587.00 L818.30 587.00 L819.17 587.00 L820.05 587.00 L820.92 587.00 L821.79 587.00 L822.66 587.00 L823.54 587.00 L824.41 587.00 L825.28 587.00 L826.16 587.00 L827.03 587.00 L827.90 587.00 L828.78 587.00 L829.65 587.00 L830.52 587.00 L831.39 587.00 L832.27 587.00 L833.14 587.00 L834.01 587.00 L834.89 587.00 L835.76 587.00 L836.63 587.00 L837.50 598.50 L838.38 598.50 L839.25 587.00 L840.12 587.00 L841.00 587.00 L841.87 587.00 L842.74 587.00 L843.61 587.00 L844.49 587.00 L845.36 587.00 L846.23 598.50 L847.11 587.00 L847.98 587.00 L848.85 587.00 L849.72 587.00 L850.60 587.00 L851.47 587.00 L852.34 587.00 L853.22 587.00 L854.09 587.00 L854.96 575.50 L855.84 587.00 L856.71 587.00 L857.58 587.00 L858.45 587.00 L859.33 587.00 L860.20 587.00 L861.07 587.00 L861.95 587.00 L862.82 587.00 L863.69 587.00 L864.56 587.00 L865.44 587.00 L866.31 587.00 L867.18 587.00 L868.06 587.00 L868.93 587.00 L869.80 587.00 L870.67 587.00 L871.55 587.00 L872.42 587.00 L873.29 587.00 L874.17 598.50 L875.04 587.00 L875.91 587.00 L876.79 598.50 L877.66 587.00 L878.53 587.00 L879.40 587.00 L880.28 587.00 L881.15 587.00 L882.02 587.00 L882.90 587.00 L883.77 587.00 L884.64 587.00 L885.51 598.50 L886.39 587.00 L887.26 587.00 L888.13 587.00 L889.01 587.00 L889.88 587.00 L890.75 587.00 L891.62 598.50 L892.50 587.00 L893.37 587.00 L894.24 587.00 L895.12 587.00 L895.99 587.00 L896.86 587.00 L897.74 587.00 L898.61 587.00 L899.48 587.00 L900.35 587.00 L901.23 587.00 L902.10 587.00 L902.97 587.00 L903.85 587.00 L904.72 587.00 L905.59 587.00 L906.46 587.00 L907.34 587.00 L908.21 587.00 L909.08 598.50 L909.96 587.00 L910.83 587.00 L911.70 587.00 L912.58 587.00 L913.45 587.00 L914.32 598.50 L915.19 587.00 L916.07 587.00 L916.94 598.50 L917.81 587.00 L918.69 598.50 L919.56 598.50 L920.43 587.00 L921.30 587.00 L922.18 587.00 L923.05 587.00 L923.92 587.00 L924.80 587.00 L925.67 587.00 L926.54 598.50 L927.41 587.00 L928.29 587.00 L929.16 587.00 L930.03 587.00 L930.91 587.00 L931.78 587.00 L932.65 587.00 L933.53 587.00 L934.40 598.50 L935.27 587.00 L936.14 587.00 L937.02 598.50 L937.89 587.00 L938.76 587.00 L939.64 587.00 L940.51 587.00 L941.38 598.50 L942.25 587.00 L943.13 598.50 L944.00 587.00 L944.87 598.50 L945.75 598.50 L946.62 587.00 L947.49 598.50 L948.36 587.00 L949.24 587.00 L950.11 587.00 L950.98 587.00 L951.86 587.00 L952.73 587.00 L953.60 598.50 L954.47 587.00 L955.35 587.00 L956.22 587.00 L957.09 587.00 L957.97 587.00 L958.84 587.00 L959.71 598.50 L960.59 587.00 L961.46 598.50 L962.33 587.00 L963.20 598.50 L964.08 587.00 L964.95 598.50 L965.82 598.50 L966.70 587.00 L967.57 587.00 L968.44 587.00 L969.31 587.00 L970.19 587.00 L971.06 587.00 L971.93 587.00 L972.81 587.00 L973.68 587.00 L974.55 587.00 L975.43 587.00 L976.30 598.50 L977.17 587.00 L978.04 587.00 L978.92 587.00 L979.79 587.00 L980.66 587.00 L981.54 598.50 L982.41 587.00 L983.28 587.00 L984.15 587.00 L985.03 587.00 L985.90 587.00 L986.77 587.00 L987.65 598.50 L988.52 587.00 L989.39 587.00 L990.26 587.00 L991.14 587.00 L992.01 587.00 L992.88 587.00 L993.76 587.00 L994.63 587.00 L995.50 587.00 L996.38 587.00 L997.25 587.00 L998.12 598.50 L998.99 598.50 L999.87 587.00 L1000.74 587.00 L1001.61 587.00 L1002.49 598.50 L1003.36 587.00 L1004.23 587.00 L1005.10 587.00 L1005.98 587.00 L1006.85 587.00 L1007.72 587.00 L1008.60 587.00 L1009.47 587.00 L1010.34 587.00 L1011.21 587.00 L1012.09 587.00 L1012.96 587.00 L1013.83 587.00 L1014.71 587.00 L1015.58 587.00 L1016.45 587.00 L1017.32 587.00 L1018.20 587.00 L1019.07 587.00 L1019.94 587.00 L1020.82 587.00 L1021.69 587.00 L1022.56 587.00 L1023.44 587.00 L1024.31 587.00 L1025.18 598.50 L1026.05 598.50 L1026.93 598.50 L1027.80 598.50 L1028.67 587.00 L1029.55 587.00 L1030.42 587.00 L1031.29 598.50 L1032.16 587.00 L1033.04 587.00 L1033.91 587.00 L1034.78 598.50 L1035.66 587.00 L1036.53 587.00 L1037.40 587.00 L1038.28 587.00 L1039.15 587.00 L1040.02 598.50 L1040.89 587.00 L1041.77 598.50 L1042.64 598.50 L1043.51 587.00 L1044.39 587.00 L1045.26 587.00 L1046.13 587.00 L1047.00 598.50 L1047.88 587.00 L1048.75 587.00 L1049.62 587.00 L1050.50 587.00 L1051.37 587.00 L1052.24 587.00 L1053.11 587.00 L1053.99 587.00 L1054.86 587.00 L1055.73 587.00 L1056.61 587.00 L1057.48 587.00 L1058.35 587.00 L1059.22 587.00 L1060.10 587.00 L1060.97 587.00 L1061.84 587.00 L1062.72 587.00 L1063.59 587.00 L1064.46 587.00 L1065.34 587.00 L1066.21 587.00 L1067.08 587.00 L1067.95 587.00 L1068.83 587.00 L1069.70 587.00 L1070.57 587.00 L1071.45 598.50 L1072.32 587.00 L1073.19 587.00 L1074.06 587.00 L1074.94 587.00 L1075.81 587.00 L1076.68 587.00 L1077.56 587.00 L1078.43 587.00 L1079.30 587.00 L1080.18 587.00 L1081.05 587.00 L1081.92 587.00 L1082.79 587.00 L1083.67 598.50 L1084.54 587.00 L1085.41 587.00 L1086.29 587.00 L1087.16 587.00 L1088.03 587.00 L1088.90 598.50 L1089.78 587.00 L1090.65 598.50 L1091.52 598.50 L1092.40 587.00 L1093.27 587.00 L1094.14 587.00 L1095.01 598.50 L1095.89 587.00 L1096.76 587.00 L1097.63 587.00 L1098.51 587.00 L1099.38 587.00 L1100.25 598.50 L1101.12 587.00 L1102.00 587.00 L1102.87 587.00 L1103.74 587.00 L1104.62 587.00 L1105.49 587.00 L1106.36 587.00 L1107.24 587.00 L1108.11 587.00 L1108.98 587.00 L1109.85 587.00 L1110.73 587.00 L1111.60 587.00 L1112.47 587.00 L1113.35 587.00 L1114.22 587.00 L1115.09 587.00 L1115.96 598.50 L1116.84 587.00 L1117.71 587.00 L1118.58 587.00 L1119.46 598.50 L1120.33 587.00 L1121.20 587.00 L1122.07 587.00 L1122.95 598.50 L1123.82 587.00 L1124.69 587.00 L1125.57 587.00 L1126.44 587.00 L1127.31 587.00 L1128.19 598.50 L1129.06 587.00 L1129.93 587.00 L1130.80 587.00 L1131.68 587.00 L1132.55 587.00 L1133.42 587.00 L1134.30 598.50 L1135.17 587.00 L1136.04 598.50 L1136.91 598.50 L1137.79 587.00 L1138.66 587.00 L1139.53 587.00 L1140.41 587.00 L1141.28 587.00 L1142.15 587.00 L1143.03 598.50 L1143.90 587.00 L1144.77 587.00 L1145.64 587.00 L1146.52 587.00 L1147.39 587.00 L1148.26 587.00 L1149.14 587.00 L1150.01 587.00 L1150.88 587.00 L1151.75 598.50 L1152.63 587.00 L1153.50 587.00 L1154.37 587.00 L1155.25 598.50 L1156.12 587.00 L1156.99 587.00 L1157.86 587.00 L1158.74 587.00 L1159.61 587.00 L1160.48 587.00 L1161.36 587.00 L1162.23 598.50 L1163.10 587.00 L1163.97 587.00 L1164.85 587.00 L1165.72 587.00 L1166.59 587.00 L1167.47 598.50 L1168.34 587.00 L1169.21 598.50 L1170.09 598.50 L1170.96 587.00 L1171.83 587.00 L1172.70 587.00 L1173.58 587.00 L1174.45 587.00 L1175.32 587.00 L1176.20 587.00 L1177.07 587.00 L1177.94 587.00 L1178.81 587.00 L1179.69 598.50 L1180.56 587.00 L1181.43 598.50 L1182.31 587.00 L1183.18 587.00 L1184.05 587.00 L1184.93 587.00 L1185.80 587.00 L1186.67 587.00 L1187.54 587.00 L1188.42 587.00 L1189.29 587.00 L1190.16 587.00 L1191.04 587.00 L1191.91 587.00 L1192.78 587.00 L1193.65 587.00 L1194.53 587.00 L1195.40 598.50 L1196.27 587.00 L1197.15 587.00 L1198.02 587.00 L1198.89 587.00 L1199.76 587.00 L1200.64 587.00 L1201.51 587.00 L1202.38 587.00 L1203.26 598.50 L1204.13 587.00 L1205.00 587.00 L1205.88 587.00 L1206.75 587.00 L1207.62 587.00 L1208.49 587.00 L1209.37 587.00 L1210.24 587.00 L1211.11 587.00 L1211.99 587.00 L1212.86 598.50 L1213.73 587.00 L1214.60 587.00 L1215.48 587.00 L1216.35 598.50 L1217.22 587.00 L1218.10 598.50 L1218.97 587.00 L1219.84 587.00 L1220.71 598.50 L1221.59 587.00 L1222.46 587.00 L1223.33 587.00 L1224.21 587.00 L1225.08 587.00 L1225.95 598.50 L1226.82 587.00 L1227.70 587.00 L1228.57 587.00 L1229.44 587.00 L1230.32 587.00 L1231.19 598.50 L1232.06 587.00 L1232.94 587.00 L1233.81 587.00 L1234.68 587.00 L1235.55 587.00 L1236.43 598.50 L1237.30 598.50 L1238.17 587.00 L1239.05 587.00 L1239.92 587.00 L1240.79 598.50 L1241.66 587.00 L1242.54 587.00 L1243.41 587.00 L1244.28 587.00 L1245.16 587.00 L1246.03 587.00 L1246.90 587.00 L1247.78 587.00 L1248.65 587.00 L1249.52 587.00 L1250.39 587.00 L1251.27 587.00 L1252.14 587.00 L1253.01 587.00 L1253.89 587.00 L1254.76 587.00 L1255.63 587.00 L1256.50 587.00 L1257.38 587.00 L1258.25 587.00 L1259.12 587.00 L1260.00 587.00 L1260.87 587.00 L1261.74 587.00 L1262.61 587.00 L1263.49 587.00 L1264.36 587.00 L1265.23 598.50 L1266.11 587.00 L1266.98 598.50 L1267.85 587.00 L1268.72 598.50 L1269.60 587.00 L1270.47 587.00 L1271.34 587.00 L1272.22 587.00 L1273.09 587.00 L1273.96 587.00 L1274.84 587.00 L1275.71 587.00 L1276.58 587.00 L1277.45 598.50 L1278.33 587.00 L1279.20 587.00 L1280.07 587.00 L1280.95 587.00 L1281.82 587.00 L1282.69 587.00 L1283.56 598.50 L1284.44 587.00 L1285.31 598.50 L1286.18 598.50 L1287.06 587.00 L1287.93 587.00 L1288.80 598.50 L1289.68 587.00 L1290.55 587.00 L1291.42 587.00 L1292.29 587.00 L1293.17 587.00 L1294.04 587.00 L1294.91 587.00 L1295.79 598.50 L1296.66 587.00 L1297.53 587.00 L1298.40 587.00 L1299.28 587.00 L1300.15 587.00 L1301.02 587.00 L1301.90 587.00 L1302.77 587.00 L1303.64 587.00 L1304.51 587.00 L1305.39 587.00 L1306.26 587.00 L1307.13 587.00 L1308.01 587.00 L1308.88 587.00 L1309.75 587.00 L1310.62 587.00 L1311.50 587.00 L1312.37 587.00 L1313.24 587.00 L1314.12 587.00 L1314.99 587.00 L1315.86 587.00 L1316.74 587.00 L1317.61 587.00 L1318.48 587.00 L1319.35 587.00 L1320.23 598.50 L1321.10 587.00 L1321.97 587.00 L1322.85 587.00 L1323.72 587.00 L1324.59 587.00 L1325.46 587.00 L1326.34 587.00 L1327.21 598.50 L1328.08 587.00 L1328.96 598.50 L1329.83 587.00 L1330.70 587.00 L1331.57 587.00 L1332.45 587.00 L1333.32 587.00 L1334.19 587.00 L1335.07 587.00 L1335.94 587.00 L1336.81 587.00 L1337.69 598.50 L1338.56 587.00 L1339.43 587.00 L1340.30 587.00 L1341.18 598.50 L1342.05 587.00 L1342.92 587.00 L1343.80 587.00 L1344.67 598.50 L1345.54 587.00 L1346.41 587.00 L1347.29 587.00 L1348.16 587.00 L1349.03 587.00 L1349.91 587.00 L1350.78 587.00 L1351.65 598.50 L1352.53 587.00 L1353.40 598.50 L1354.27 598.50 L1355.14 587.00 L1356.02 587.00 L1356.89 598.50 L1357.76 587.00 L1358.64 587.00 L1359.51 587.00 L1360.38 598.50 L1361.25 587.00 L1362.13 598.50 L1363.00 587.00" fill="none" stroke="#000" stroke-width="1.389" stroke-linejoin="round"/>
<line x1="106.0" y1="748.50" x2="1363.0" y2="748.50" stroke="#f00" stroke-width="2.778"/>
<path d="M158.5 863.5 L158.5 518.5 M211.5 863.5 L211.5 518.5 M263.5 863.5 L263.5 518.5 M316.5 863.5 L316.5 518.5 M368.5 863.5 L368.5 518.5 M420.5 863.5 L420.5 518.5 M473.5 863.5 L473.5 518.5 M525.5 863.5 L525.5 518.5 M577.5 863.5 L577.5 518.5 M630.5 863.5 L630.5 518.5 M682.5 863.5 L682.5 518.5 M735.5 863.5 L735.5 518.5 M787.5 863.5 L787.5 518.5 M839.5 863.5 L839.5 518.5 M892.5 863.5 L892.5 518.5 M944.5 863.5 L944.5 518.5 M996.5 863.5 L996.5 518.5 M1049.5 863.5 L1049.5 518.5 M1101.5 863.5 L1101.5 518.5 M1154.5 863.5 L1154.5 518.5 M1206.5 863.5 L1206.5 518.5 M1258.5 863.5 L1258.5 518.5 M1311.5 863.5 L1311.5 518.5 M106.5 805.5 L1363.5 805.5 M106.5 748.5 L1363.5 748.5 M106.5 690.5 L1363.5 690.5 M106.5 633.5 L1363.5 633.5 M106.5 575.5 L1363.5 575.5" fill="none" stroke="#000" stroke-width="0.694" stroke-dasharray="1.389 4.167"/>
<path d="M106.5 863.5 l0 -5.56 M106.5 518.5 l0 5.56 M158.5 863.5 l0 -5.56 M158.5 518.5 l0 5.56 M211.5 863.5 l0 -5.56 M211.5 518.5 l0 5.56 M263.5 863.5 l0 -5.56 M263.5 518.5 l0 5.56 M316.5 863.5 l0 -5.56 M316.5 518.5 l0 5.56 M368.5 863.5 l0 -5.56 M368.5 518.5 l0 5.56 M420.5 863.5 l0 -5.56 M420.5 518.5 l0 5.56 M473.5 863.5 l0 -5.56 M473.5 518.5 l0 5.56 M525.5 863.5 l0 -5.56 M525.5 518.5 l0 5.56 M577.5 863.5 l0 -5.56 M577.5 518.5 l0 5.56 M630.5 863.5 l0 -5.56 M630.5 518.5 l0 5.56 M682.5 863.5 l0 -5.56 M682.5 518.5 l0 5.56 M735.5 863.5 l0 -5.56 M735.5 518.5 l0 5.56 M787.5 863.5 l0 -5.56 M787.5 518.5 l0 5.56 M839.5 863.5 l0 -5.56 M839.5 518.5 l0 5.56 M892.5 863.5 l0 -5.56 M892.5 518.5 l0 5.56 M944.5 863.5 l0 -5.56 M944.5 518.5 l0 5.56 M996.5 863.5 l0 -5.56 M996.5 518.5 l0 5.56 M1049.5 863.5 l0 -5.56 M1049.5 518.5 l0 5.56 M1101.5 863.5 l0 -5.56 M1101.5 518.5 l0 5.56 M1154.5 863.5 l0 -5.56 M1154.5 518.5 l0 5.56 M1206.5 863.5 l0 -5.56 M1206.5 518.5 l0 5.56 M1258.5 863.5 l0 -5.56 M1258.5 518.5 l0 5.56 M1311.5 863.5 l0 -5.56 M1311.5 518.5 l0 5.56 M1363.5 863.5 l0 -5.56 M1363.5 518.5 l0 5.56 M106.5 863.5 l5.56 0 M1363.5 863.5 l-5.56 0 M106.5 805.5 l5.56 0 M1363.5 805.5 l-5.56 0 M106.5 748.5 l5.56 0 M1363.5 748.5 l-5.56 0 M106.5 690.5 l5.56 0 M1363.5 690.5 l-5.56 0 M106.5 633.5 l5.56 0 M1363.5 633.5 l-5.56 0 M106.5 575.5 l5.56 0 M1363.5 575.5 l-5.56 0 M106.5 518.5 l5.56 0 M1363.5 518.5 l-5.56 0" fill="none" stroke="#000" stroke-width="0.694"/>
<rect x="106.5" y="518.5" width="1257.0" height="345.0" fill="none" stroke="#000" stroke-width="1.389"/>
<text x="523.53" y="43.00" font-size="29.07" textLength="56.21" lengthAdjust="spacingAndGlyphs">First</text>
<text x="589.85" y="43.00" font-size="29.07" textLength="67.51" lengthAdjust="spacingAndGlyphs">time:</text>
<text x="667.52" y="43.00" font-size="29.07" textLength="152.50" lengthAdjust="spacingAndGlyphs">2025-11-28</text>
<text x="830.56" y="43.00" font-size="29.07" textLength="117.21" lengthAdjust="spacingAndGlyphs">00:01:00</text>
<text x="523.56" y="73.00" font-size="29.07" textLength="53.92" lengthAdjust="spacingAndGlyphs">Last</text>
<text x="587.64" y="73.00" font-size="29.07" textLength="67.84" lengthAdjust="spacingAndGlyphs">time:</text>
<text x="665.68" y="73.00" font-size="29.07" textLength="153.30" lengthAdjust="spacingAndGlyphs">2025-11-29</text>
<text x="829.50" y="73.00" font-size="29.07" textLength="117.78" lengthAdjust="spacingAndGlyphs">00:00:00</text>
<text x="53.57" y="431.00" font-size="23.26" textLength="47.18" lengthAdjust="spacingAndGlyphs">38.0</text>
<text x="54.05" y="373.00" font-size="23.26" textLength="46.76" lengthAdjust="spacingAndGlyphs">38.5</text>
<text x="53.57" y="316.00" font-size="23.26" textLength="47.18" lengthAdjust="spacingAndGlyphs">39.0</text>
<text x="54.05" y="258.00" font-size="23.26" textLength="46.76" lengthAdjust="spacingAndGlyphs">39.5</text>
<text x="53.33" y="201.00" font-size="23.26" textLength="47.42" lengthAdjust="spacingAndGlyphs">40.0</text>
<text x="53.80" y="143.00" font-size="23.26" textLength="47.02" lengthAdjust="spacingAndGlyphs">40.5</text>
<text x="53.33" y="86.00" font-size="23.26" textLength="47.42" lengthAdjust="spacingAndGlyphs">41.0</text>
<text x="93.41" y="447.00" font-size="23.26" textLength="26.17" lengthAdjust="spacingAndGlyphs">00</text>
<text x="145.71" y="447.00" font-size="23.26" textLength="25.80" lengthAdjust="spacingAndGlyphs">01</text>
<text x="198.81" y="447.00" font-size="23.26" textLength="25.65" lengthAdjust="spacingAndGlyphs">02</text>
<text x="250.57" y="447.00" font-size="23.26" textLength="25.97" lengthAdjust="spacingAndGlyphs">03</text>
<text x="303.30" y="447.00" font-size="23.26" textLength="26.17" lengthAdjust="spacingAndGlyphs">04</text>
<text x="355.66" y="447.00" font-size="23.26" textLength="25.74" lengthAdjust="spacingAndGlyphs">05</text>
<text x="407.37" y="447.00" font-size="23.26" textLength="26.38" lengthAdjust="spacingAndGlyphs">06</text>
<text x="460.63" y="447.00" font-size="23.26" textLength="26.00" lengthAdjust="spacingAndGlyphs">07</text>
<text x="512.43" y="447.00" font-size="23.26" textLength="26.24" lengthAdjust="spacingAndGlyphs">08</text>
<text x="564.45" y="447.00" font-size="23.26" textLength="26.29" lengthAdjust="spacingAndGlyphs">09</text>
<text x="617.04" y="447.00" font-size="23.26" textLength="26.06" lengthAdjust="spacingAndGlyphs">10</text>
<text x="669.35" y="447.00" font-size="23.26" textLength="25.67" lengthAdjust="spacingAndGlyphs">11</text>
<text x="722.45" y="447.00" font-size="23.26" textLength="25.51" lengthAdjust="spacingAndGlyphs">12</text>
<text x="774.20" y="447.00" font-size="23.26" textLength="25.84" lengthAdjust="spacingAndGlyphs">13</text>
<text x="825.92" y="447.00" font-size="23.26" textLength="26.06" lengthAdjust="spacingAndGlyphs">14</text>
<text x="879.30" y="447.00" font-size="23.26" textLength="25.61" lengthAdjust="spacingAndGlyphs">15</text>
<text x="930.98" y="447.00" font-size="23.26" textLength="26.27" lengthAdjust="spacingAndGlyphs">16</text>
<text x="983.26" y="447.00" font-size="23.26" textLength="25.88" lengthAdjust="spacingAndGlyphs">17</text>
<text x="1036.05" y="447.00" font-size="23.26" textLength="26.12" lengthAdjust="spacingAndGlyphs">18</text>
<text x="1088.07" y="447.00" font-size="23.26" textLength="26.18" lengthAdjust="spacingAndGlyphs">19</text>
<text x="1141.23" y="447.00" font-size="23.26" textLength="26.28" lengthAdjust="spacingAndGlyphs">20</text>
<text x="1193.53" y="447.00" font-size="23.26" textLength="25.90" lengthAdjust="spacingAndGlyphs">21</text>
<text x="1245.62" y="447.00" font-size="23.26" textLength="25.75" lengthAdjust="spacingAndGlyphs">22</text>
<text x="1298.39" y="447.00" font-size="23.26" textLength="26.08" lengthAdjust="spacingAndGlyphs">23</text>
<text x="1350.41" y="447.00" font-size="23.26" textLength="26.17" lengthAdjust="spacingAndGlyphs">00</text>
<text x="674.52" y="473.00" font-size="23.26" textLength="52.34" lengthAdjust="spacingAndGlyphs">Hour</text>
<text x="734.99" y="473.00" font-size="23.26" textLength="60.18" lengthAdjust="spacingAndGlyphs">(UTC)</text>
<text transform="translate(41.00,373.60) rotate(-90)" x="-1.45" y="0" font-size="23.26" textLength="59.55" lengthAdjust="spacingAndGlyphs">Laser</text>
<text transform="translate(41.00,307.74) rotate(-90)" x="0.11" y="0" font-size="23.26" textLength="138.91" lengthAdjust="spacingAndGlyphs">temperature</text>
<text transform="translate(41.00,159.21) rotate(-90)" x="-0.88" y="0" font-size="23.26" textLength="30.78" lengthAdjust="spacingAndGlyphs">(C)</text>
<text x="74.62" y="869.00" font-size="23.26" textLength="26.10" lengthAdjust="spacingAndGlyphs">70</text>
<text x="75.11" y="811.00" font-size="23.26" textLength="25.66" lengthAdjust="spacingAndGlyphs">75</text>
<text x="74.48" y="754.00" font-size="23.26" textLength="26.24" lengthAdjust="spacingAndGlyphs">80</text>
<text x="74.97" y="696.00" font-size="23.26" textLength="25.81" lengthAdjust="spacingAndGlyphs">85</text>
<text x="74.29" y="639.00" font-size="23.26" textLength="26.44" lengthAdjust="spacingAndGlyphs">90</text>
<text x="74.77" y="581.00" font-size="23.26" textLength="26.01" lengthAdjust="spacingAndGlyphs">95</text>
<text x="60.47" y="524.00" font-size="23.26" textLength="40.28" lengthAdjust="spacingAndGlyphs">100</text>
<text x="93.41" y="885.00" font-size="23.26" textLength="26.17" lengthAdjust="spacingAndGlyphs">00</text>
<text x="145.71" y="885.00" font-size="23.26" textLength="25.80" lengthAdjust="spacingAndGlyphs">01</text>
<text x="198.81" y="885.00" font-size="23.26" textLength="25.65" lengthAdjust="spacingAndGlyphs">02</text>
<text x="250.57" y="885.00" font-size="23.26" textLength="25.97" lengthAdjust="spacingAndGlyphs">03</text>
<text x="303.30" y="885.00" font-size="23.26" textLength="26.17" lengthAdjust="spacingAndGlyphs">04</text>
<text x="355.66" y="885.00" font-size="23.26" textLength="25.74" lengthAdjust="spacingAndGlyphs">05</text>
<text x="407.37" y="885.00" font-size="23.26" textLength="26.38" lengthAdjust="spacingAndGlyphs">06</text>
<text x="460.63" y="885.00" font-size="23.26" textLength="26.00" lengthAdjust="spacingAndGlyphs">07</text>
<text x="512.43" y="885.00" font-size="23.26" textLength="26.24" lengthAdjust="spacingAndGlyphs">08</text>
<text x="564.45" y="885.00" font-size="23.26" textLength="26.29" lengthAdjust="spacingAndGlyphs">09</text>
<text x="617.04" y="885.00" font-size="23.26" textLength="26.06" lengthAdjust="spacingAndGlyphs">10</text>
<text x="669.35" y="885.00" font-size="23.26" textLength="25.67" lengthAdjust="spacingAndGlyphs">11</text>
<text x="722.45" y="885.00" font-size="23.26" textLength="25.51" lengthAdjust="spacingAndGlyphs">12</text>
<text x="774.20" y="885.00" font-size="23.26" textLength="25.84" lengthAdjust="spacingAndGlyphs">13</text>
<text x="825.92" y="885.00" font-size="23.26" textLength="26.06" lengthAdjust="spacingAndGlyphs">14</text>
<text x="879.30" y="885.00" font-size="23.26" textLength="25.61" lengthAdjust="spacingAndGlyphs">15</text>
<text x="930.98" y="885.00" font-size="23.26" textLength="26.27" lengthAdjust="spacingAndGlyphs">16</text>
<text x="983.26" y="885.00" font-size="23.26" textLength="25.88" lengthAdjust="spacingAndGlyphs">17</text>
<text x="1036.05" y="885.00" font-size="23.26" textLength="26.12" lengthAdjust="spacingAndGlyphs">18</text>
<text x="1088.07" y="885.00" font-size="23.26" textLength="26.18" lengthAdjust="spacingAndGlyphs">19</text>
<text x="1141.23" y="885.00" font-size="23.26" textLength="26.28" lengthAdjust="spacingAndGlyphs">20</text>
<text x="1193.53" y="885.00" font-size="23.26" textLength="25.90" lengthAdjust="spacingAndGlyphs">21</text>
<text x="1245.62" y="885.00" font-size="23.26" textLength="25.75" lengthAdjust="spacingAndGlyphs">22</text>
<text x="1298.39" y="885.00" font-size="23.26" textLength="26.08" lengthAdjust="spacingAndGlyphs">23</text>
<text x="1350.41" y="885.00" font-size="23.26" textLength="26.17" lengthAdjust="spacingAndGlyphs">00</text>
<text x="674.52" y="911.00" font-size="23.26" textLength="52.34" lengthAdjust="spacingAndGlyphs">Hour</text>
<text x="734.99" y="911.00" font-size="23.26" textLength="60.18" lengthAdjust="spacingAndGlyphs">(UTC)</text>
<text transform="translate(50.00,864.70) rotate(-90)" x="-1.33" y="0" font-size="23.26" textLength="65.73" lengthAdjust="spacingAndGlyphs">LIDAR</text>
<text transform="translate(50.00,792.20) rotate(-90)" x="0.54" y="0" font-size="23.26" textLength="81.34" lengthAdjust="spacingAndGlyphs">window</text>
<text transform="translate(50.00,701.17) rotate(-90)" x="0.12" y="0" font-size="23.26" textLength="140.46" lengthAdjust="spacingAndGlyphs">transmission</text>
<text transform="translate(50.00,550.85) rotate(-90)" x="-0.96" y="0" font-size="23.26" textLength="36.55" lengthAdjust="spacingAndGlyphs">(%)</text>
<rect x="1116.5" y="89.5" width="238" height="54" fill="#fff" stroke="#000" stroke-width="1.389"/>
<line x1="1123" y1="117.5" x2="1161" y2="117.5" stroke="#000" stroke-width="1.389"/>
<text x="1175.48" y="111.00" font-size="18.90" textLength="49.51" lengthAdjust="spacingAndGlyphs">Laser</text>
<text x="1231.72" y="111.00" font-size="18.90" textLength="115.73" lengthAdjust="spacingAndGlyphs">temperature</text>
<text x="1175.55" y="131.00" font-size="18.90" textLength="29.19" lengthAdjust="spacingAndGlyphs">(40</text>
<text x="1212.26" y="131.00" font-size="18.90" textLength="18.63" lengthAdjust="spacingAndGlyphs">C)</text>
<rect x="115.5" y="752.5" width="197" height="102" fill="#fff" stroke="#000" stroke-width="1.389"/>
<line x1="121.5" y1="790.5" x2="160.5" y2="790.5" stroke="#000" stroke-width="1.389"/>
<line x1="121.0" y1="836.5" x2="161.0" y2="836.5" stroke="#f00" stroke-width="2.778"/>
<text x="174.18" y="773.00" font-size="18.90" textLength="54.51" lengthAdjust="spacingAndGlyphs">LIDAR</text>
<text x="236.05" y="773.00" font-size="18.90" textLength="67.51" lengthAdjust="spacingAndGlyphs">window</text>
<text x="175.09" y="794.00" font-size="18.90" textLength="115.85" lengthAdjust="spacingAndGlyphs">transmission</text>
<text x="173.66" y="815.00" font-size="18.90" textLength="53.38" lengthAdjust="spacingAndGlyphs">(94%)</text>
<text x="174.44" y="842.00" font-size="18.90" textLength="39.44" lengthAdjust="spacingAndGlyphs">80%</text>
<text x="292.22" y="958.00" font-size="23.26" textLength="114.90" lengthAdjust="spacingAndGlyphs">Copyright:</text>
<text x="415.85" y="958.00" font-size="23.26" textLength="111.08" lengthAdjust="spacingAndGlyphs">Szechenyi</text>
<text x="535.34" y="958.00" font-size="23.26" textLength="66.60" lengthAdjust="spacingAndGlyphs">Istvan</text>
<text x="610.31" y="958.00" font-size="23.26" textLength="134.22" lengthAdjust="spacingAndGlyphs">Geophysical</text>
<text x="753.12" y="958.00" font-size="23.26" textLength="135.77" lengthAdjust="spacingAndGlyphs">Observatory</text>
<text x="898.10" y="958.00" font-size="23.26" textLength="60.80" lengthAdjust="spacingAndGlyphs">(NCK,</text>
<text class="ser" x="966.87" y="958.00" font-size="23.00" textLength="17.02" lengthAdjust="spacingAndGlyphs">47</text>
<text class="seri" x="989.07" y="948.00" font-size="15.50" textLength="7.15" lengthAdjust="spacingAndGlyphs">o</text>
<text class="ser" x="1010.40" y="958.00" font-size="23.00" textLength="20.90" lengthAdjust="spacingAndGlyphs">38</text>
<text x="1032.97" y="959.60" font-size="24.00" textLength="4.25" lengthAdjust="spacingAndGlyphs">'</text>
<text x="1046.83" y="958.00" font-size="23.26" textLength="21.62" lengthAdjust="spacingAndGlyphs">N,</text>
<text class="ser" x="1076.59" y="958.00" font-size="23.00" textLength="20.63" lengthAdjust="spacingAndGlyphs">16</text>
<text class="seri" x="1099.16" y="948.00" font-size="15.50" textLength="7.38" lengthAdjust="spacingAndGlyphs">o</text>
<text class="ser" x="1120.80" y="958.00" font-size="23.00" textLength="20.40" lengthAdjust="spacingAndGlyphs">43</text>
<text x="1142.77" y="959.60" font-size="24.00" textLength="4.25" lengthAdjust="spacingAndGlyphs">'</text>
<text x="1157.22" y="958.00" font-size="23.26" textLength="20.44" lengthAdjust="spacingAndGlyphs">E)</text>
</svg></body></html>
